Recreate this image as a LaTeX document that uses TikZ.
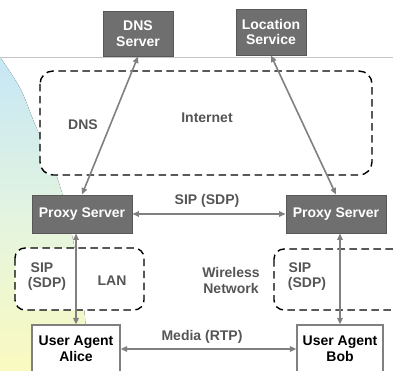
\documentclass[tikz,border=0pt]{standalone}
\usepackage{fontspec}
\setmainfont{Liberation Sans}
\usetikzlibrary{arrows.meta}
\definecolor{boxfill}{HTML}{6F6F6F}
\definecolor{boxline}{HTML}{585858}
\definecolor{arrowgray}{HTML}{808080}
\definecolor{labelgray}{HTML}{555555}
\definecolor{rulegray}{HTML}{C4C4C4}
\definecolor{blobtop}{HTML}{C6E7F6}
\definecolor{blobmid}{HTML}{E3F4E0}
\definecolor{blobbot}{HTML}{FAFAC0}
\tikzset{
  darkbox/.style={draw=boxline, line width=0.9pt, fill=boxfill, text=white,
    font=\fontsize{14}{15.5}\selectfont\bfseries, align=center, inner sep=0pt},
  whitebox/.style={draw=arrowgray, line width=1.2pt, fill=white, text=black,
    font=\fontsize{14}{16}\selectfont\bfseries, align=center, inner sep=0pt},
  region/.style={draw=black, line width=1.4pt, dash pattern=on 7.5pt off 4.5pt, fill=white},
  lbl/.style={text=labelgray, font=\fontsize{14}{16}\selectfont\bfseries, align=center, inner sep=0pt},
  link/.style={draw=arrowgray, line width=1.6pt, {Triangle[length=6.5pt,width=5.5pt]}-{Triangle[length=6.5pt,width=5.5pt]}}
}
\begin{document}
\begin{tikzpicture}[x=1pt,y=-1pt]
\useasboundingbox (0,0) rectangle (393,371);
\clip (0,0) rectangle (393,371);
% background blob
\fill[top color=blobtop, bottom color=blobbot, middle color=blobmid]
  plot[smooth] coordinates {(0,57) (20,88) (34,122) (47,152) (58,180) (66,208) (73,240) (80,280) (85,318) (88,371)}
  -- (0,371) -- cycle;
% rule line
\draw[rulegray, line width=0.8pt] (0,57.5) -- (393,57.5);
% dashed regions
\draw[region, rounded corners=13pt] (40,71) rectangle (372,175);
\draw[region, rounded corners=10pt] (15,248) rectangle (144,310);
\draw[region, rounded corners=10pt] (274,249) rectangle (410,310);
% boxes
\node[darkbox, minimum width=70pt, minimum height=45pt] (dns) at (138,33.5) {DNS\\Server};
\node[darkbox, minimum width=70pt, minimum height=46pt] (loc) at (271,32) {Location\\Service};
\node[darkbox, minimum width=100pt, minimum height=38pt] (proxyL) at (82,214) {Proxy Server};
\node[darkbox, minimum width=100pt, minimum height=38pt] (proxyR) at (336,214) {Proxy Server};
\node[whitebox, minimum width=88pt, minimum height=48pt] (alice) at (76,349) {User Agent\\Alice};
\node[whitebox, minimum width=86pt, minimum height=48pt] (bob) at (340,349) {User Agent\\Bob};
% connectors
\draw[link] (dns.south) -- (proxyL.north);
\draw[link] (loc.south) -- (proxyR.north);
\draw[link] (proxyL.east) -- (proxyR.west);
\draw[link] (proxyL.south -| alice.north) -- (alice.north);
\draw[link] (proxyR.south -| bob.north) -- (bob.north);
\draw[link] (alice.east) -- (bob.west);
% labels
\node[lbl] (internet) at (207,118) {Internet};
\node[lbl] (dnslbl) at (83,125) {DNS};
\node[lbl] (sipmid) at (207,201) {SIP (SDP)};
\node[lbl] (sipL1) at (42,268) {SIP};
\node[lbl] (sipL2) at (47,284) {(SDP)};
\node[lbl] (lan) at (112,281) {LAN};
\node[lbl] (wireless) at (231,280) {Wireless\\Network};
\node[lbl] (sipR1) at (300,268) {SIP};
\node[lbl] (sipR2) at (307,284) {(SDP)};
\node[lbl] (media) at (202,337) {Media (RTP)};
\end{tikzpicture}
\end{document}
